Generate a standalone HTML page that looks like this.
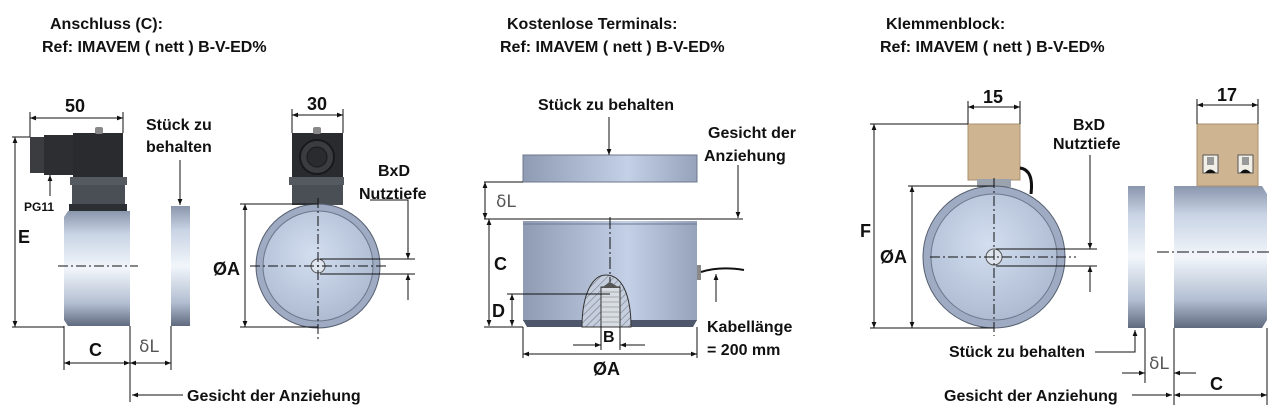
<!DOCTYPE html>
<html><head><meta charset="utf-8"><style>
html,body{margin:0;padding:0;background:#fff;}
svg{display:block;}
text{font-family:"Liberation Sans",sans-serif;font-weight:bold;fill:#111;}
.t{font-size:16px;}
.d{font-size:18px;}
.dl{font-family:"DejaVu Sans",sans-serif;font-weight:normal;fill:#555;font-size:17px;}
</style></head><body>
<svg width="1283" height="408" viewBox="0 0 1283 408" xmlns="http://www.w3.org/2000/svg">
<defs>
<linearGradient id="mv" x1="0" y1="0" x2="0" y2="1">
<stop offset="0" stop-color="#8a96ac"/><stop offset="0.2" stop-color="#c8d3e4"/><stop offset="0.5" stop-color="#f2f6fb"/><stop offset="0.8" stop-color="#b3bfd2"/><stop offset="1" stop-color="#5f6a7e"/></linearGradient>
<linearGradient id="cy" x1="0" y1="0" x2="1" y2="0">
<stop offset="0" stop-color="#8f9bb3"/><stop offset="0.6" stop-color="#c3d0e6"/><stop offset="1" stop-color="#96a2ba"/></linearGradient>
<radialGradient id="cf" cx="0.45" cy="0.4" r="0.7">
<stop offset="0" stop-color="#d3def0"/><stop offset="1" stop-color="#a8b6cd"/></radialGradient>
<pattern id="hat" width="5" height="5" patternUnits="userSpaceOnUse" patternTransform="rotate(45)">
<rect width="5" height="5" fill="#c4cede"/><line x1="0" y1="0" x2="0" y2="5" stroke="#555" stroke-width="0.8"/></pattern>
<marker id="a" viewBox="0 0 10 10" refX="10" refY="5" markerWidth="9" markerHeight="6" orient="auto-start-reverse" markerUnits="userSpaceOnUse"><path d="M0,1 L10,5 L0,9 z" fill="#111"/></marker>
</defs>

<text class="t" x="50" y="29">Anschluss (C):</text>
<text class="t" x="42" y="52">Ref: IMAVEM ( nett ) B-V-ED%</text>
<text class="t" x="507" y="29">Kostenlose Terminals:</text>
<text class="t" x="500" y="52">Ref: IMAVEM ( nett ) B-V-ED%</text>
<text class="t" x="886" y="29">Klemmenblock:</text>
<text class="t" x="880" y="52">Ref: IMAVEM ( nett ) B-V-ED%</text>

<!-- LEFT side view -->
<rect x="30" y="137" width="15" height="36" fill="#3a3c40"/>
<rect x="44" y="135" width="30" height="40" fill="#2c2e31"/>
<rect x="73" y="133" width="50" height="44" fill="#2a2b2e"/>
<rect x="95" y="127" width="8" height="7" rx="2" fill="#888"/>
<rect x="70" y="177" width="57" height="8" fill="#555a60"/>
<rect x="72" y="185" width="53" height="19" fill="#4a4f55"/>
<rect x="69" y="204" width="58" height="8" fill="#2b2e33"/>
<path d="M68,211 L130,211 L130,326 L68,326 L64,320 L64,217 Z" fill="url(#mv)"/>
<rect x="171" y="206" width="19" height="120" fill="url(#mv)"/>
<g stroke="#111" stroke-width="1" fill="none">
<line x1="30" y1="112" x2="30" y2="137"/><line x1="123" y1="112" x2="123" y2="133"/>
<line x1="30" y1="118" x2="123" y2="118" marker-start="url(#a)" marker-end="url(#a)"/>
<line x1="12" y1="137" x2="30" y2="137"/><line x1="12" y1="327" x2="64" y2="327"/>
<line x1="15" y1="137" x2="15" y2="327" marker-start="url(#a)" marker-end="url(#a)"/>
<line x1="50" y1="196" x2="50" y2="175" marker-end="url(#a)"/>
<line x1="180" y1="160" x2="180" y2="205" marker-end="url(#a)"/>
<line x1="64" y1="326" x2="64" y2="370"/><line x1="130" y1="326" x2="130" y2="402"/><line x1="171" y1="326" x2="171" y2="370"/>
<line x1="64" y1="363" x2="130" y2="363" marker-start="url(#a)" marker-end="url(#a)"/>
<line x1="130" y1="363" x2="171" y2="363" marker-start="url(#a)" marker-end="url(#a)"/>
<line x1="183" y1="395" x2="132" y2="395" marker-end="url(#a)"/>
<line x1="58" y1="266" x2="138" y2="266" stroke-dasharray="10,3,2,3"/>
</g>
<text class="d" x="65" y="112">50</text>
<text class="t" x="146" y="130">Stück zu</text>
<text class="t" x="146" y="152">behalten</text>
<text class="d" x="18" y="243">E</text>
<text style="font-size:12px" x="24" y="211">PG11</text>
<text class="d" x="89" y="356">C</text>
<text class="dl" x="139" y="352">δL</text>
<text class="t" x="187" y="401">Gesicht der Anziehung</text>

<!-- front view -->
<rect x="292" y="133" width="51" height="44" fill="#2a2b2e"/>
<circle cx="317" cy="157" r="17" fill="#3a3c40" stroke="#18191b" stroke-width="2"/>
<circle cx="317" cy="157" r="10" fill="#2a2b2e" stroke="#18191b"/>
<rect x="313" y="127" width="8" height="7" rx="2" fill="#888"/>
<rect x="289" y="177" width="55" height="8" fill="#555a60"/>
<rect x="292" y="185" width="51" height="20" fill="#4a4f55"/>
<circle cx="318" cy="266" r="62" fill="#9eabc2" stroke="#555f70"/>
<circle cx="318" cy="266" r="55" fill="url(#cf)" stroke="#6b778a"/>
<circle cx="318" cy="266" r="7" fill="#dfe5ee" stroke="#555"/>
<g stroke="#111" stroke-width="1" fill="none">
<line x1="292" y1="109" x2="292" y2="133"/><line x1="343" y1="109" x2="343" y2="133"/>
<line x1="292" y1="115" x2="343" y2="115" marker-start="url(#a)" marker-end="url(#a)"/>
<line x1="240" y1="204" x2="318" y2="204"/><line x1="240" y1="327" x2="318" y2="327"/>
<line x1="245" y1="204" x2="245" y2="327" marker-start="url(#a)" marker-end="url(#a)"/>
<line x1="318" y1="198" x2="318" y2="342" stroke-dasharray="10,3,2,3"/>
<line x1="250" y1="266" x2="388" y2="266" stroke-dasharray="10,3,2,3"/>
<line x1="320" y1="259" x2="415" y2="259"/><line x1="320" y1="274" x2="415" y2="274"/>
<polyline points="370,200 408,200 408,259"/>
<line x1="408" y1="244" x2="408" y2="259" marker-end="url(#a)"/>
<line x1="408" y1="300" x2="408" y2="274" marker-end="url(#a)"/>
</g>
<text class="d" x="307" y="110">30</text>
<text class="d" x="213" y="275">ØA</text>
<text class="t" x="378" y="176">BxD</text>
<text class="t" x="359" y="199">Nutztiefe</text>

<!-- MIDDLE -->
<rect x="523" y="155" width="174" height="27" fill="url(#cy)" stroke="#6d788c"/>
<rect x="523" y="221" width="174" height="100" fill="url(#cy)"/>
<path d="M523,320 L697,320 L693,327 L527,327 Z" fill="#4d566a"/>
<line x1="523" y1="224" x2="697" y2="224" stroke="#6d788c"/>
<rect x="697" y="265" width="4" height="15" fill="#888"/>
<path d="M701,272 Q720,266 744,270" stroke="#111" stroke-width="2" fill="none"/>
<path d="M582,327 C582,295 592,275 606,275 C622,275 631,295 631,327 Z" fill="url(#hat)" stroke="#333"/>
<rect x="601" y="287" width="19" height="40" fill="#d8dde3" stroke="#333"/>
<g stroke="#999" stroke-width="0.7">
<line x1="602" y1="292" x2="619" y2="292"/><line x1="602" y1="297" x2="619" y2="297"/><line x1="602" y1="302" x2="619" y2="302"/><line x1="602" y1="307" x2="619" y2="307"/><line x1="602" y1="312" x2="619" y2="312"/><line x1="602" y1="317" x2="619" y2="317"/><line x1="602" y1="322" x2="619" y2="322"/></g>
<path d="M601,288 L610,282 L620,288 Z" fill="#555"/>
<g stroke="#111" stroke-width="1" fill="none">
<line x1="609" y1="117" x2="609" y2="155" marker-end="url(#a)"/>
<line x1="484" y1="182" x2="523" y2="182"/>
<line x1="485" y1="182" x2="485" y2="219" marker-start="url(#a)" marker-end="url(#a)"/>
<line x1="484" y1="219" x2="743" y2="219"/>
<line x1="738" y1="165" x2="738" y2="218" marker-end="url(#a)"/>
<line x1="489" y1="219" x2="489" y2="326" marker-start="url(#a)" marker-end="url(#a)"/>
<line x1="507" y1="294" x2="610" y2="294"/>
<line x1="512" y1="294" x2="512" y2="326" marker-start="url(#a)" marker-end="url(#a)"/>
<line x1="484" y1="327" x2="523" y2="327"/>
<line x1="610" y1="217" x2="610" y2="282" stroke-dasharray="12,3,2,3"/>
<line x1="601" y1="327" x2="601" y2="350"/><line x1="620" y1="327" x2="620" y2="350"/>
<line x1="573" y1="345" x2="601" y2="345" marker-end="url(#a)"/>
<line x1="645" y1="345" x2="620" y2="345" marker-end="url(#a)"/>
<line x1="523" y1="327" x2="523" y2="358"/><line x1="697" y1="327" x2="697" y2="358"/>
<line x1="523" y1="354" x2="697" y2="354" marker-start="url(#a)" marker-end="url(#a)"/>
<line x1="716" y1="302" x2="716" y2="274" marker-end="url(#a)"/>
</g>
<text class="t" x="538" y="110">Stück zu behalten</text>
<text class="t" x="708" y="138">Gesicht der</text>
<text class="t" x="704" y="161">Anziehung</text>
<text class="dl" x="496" y="207">δL</text>
<text class="d" x="494" y="270">C</text>
<text class="d" x="492" y="317">D</text>
<text class="t" x="603" y="342">B</text>
<text class="d" x="593" y="375">ØA</text>
<text class="t" x="707" y="332">Kabellänge</text>
<text class="t" x="707" y="355">= 200 mm</text>

<!-- RIGHT -->
<rect x="968" y="124" width="52" height="56" fill="#cfb492" stroke="#a8906f"/>
<rect x="977" y="179" width="34" height="8" fill="#9aa3ae"/>
<path d="M1020,168 Q1034,170 1031,194" stroke="#111" stroke-width="3" fill="none"/>
<circle cx="994" cy="257" r="71" fill="#9eabc2" stroke="#555f70"/>
<circle cx="994" cy="257" r="63" fill="url(#cf)" stroke="#6b778a"/>
<circle cx="994" cy="257" r="8" fill="#dfe5ee" stroke="#555"/>
<rect x="1128" y="186" width="17" height="142" fill="url(#mv)"/>
<path d="M1174,186 L1262,186 L1267,194 L1267,320 L1262,328 L1174,328 Z" fill="url(#mv)"/>
<rect x="1197" y="124" width="61" height="62" fill="#cfb492" stroke="#a8906f"/>
<rect x="1203" y="155" width="15" height="18" fill="#f2efe9" stroke="#555"/>
<rect x="1238" y="155" width="15" height="18" fill="#f2efe9" stroke="#555"/>
<rect x="1207" y="157" width="7" height="8" fill="#999"/><rect x="1242" y="157" width="7" height="8" fill="#999"/>
<path d="M1205,173 Q1210,166 1216,173 Z M1240,173 Q1245,166 1251,173 Z" fill="#111"/>
<g stroke="#111" stroke-width="1" fill="none">
<line x1="968" y1="101" x2="968" y2="124"/><line x1="1020" y1="101" x2="1020" y2="124"/>
<line x1="968" y1="107" x2="1020" y2="107" marker-start="url(#a)" marker-end="url(#a)"/>
<line x1="870" y1="124" x2="968" y2="124"/>
<line x1="874" y1="124" x2="874" y2="328" marker-start="url(#a)" marker-end="url(#a)"/>
<line x1="908" y1="186" x2="994" y2="186"/>
<line x1="912" y1="186" x2="912" y2="328" marker-start="url(#a)" marker-end="url(#a)"/>
<line x1="870" y1="328" x2="994" y2="328"/>
<line x1="994" y1="178" x2="994" y2="336" stroke-dasharray="10,3,2,3"/>
<line x1="930" y1="257" x2="1076" y2="257" stroke-dasharray="10,3,2,3"/>
<line x1="996" y1="249" x2="1097" y2="249"/><line x1="996" y1="266" x2="1097" y2="266"/>
<line x1="1090" y1="155" x2="1090" y2="249" marker-end="url(#a)"/>
<line x1="1090" y1="292" x2="1090" y2="266" marker-end="url(#a)"/>
<line x1="1197" y1="99" x2="1197" y2="124"/><line x1="1258" y1="99" x2="1258" y2="124"/>
<line x1="1197" y1="105" x2="1258" y2="105" marker-start="url(#a)" marker-end="url(#a)"/>
<line x1="1157" y1="252" x2="1272" y2="252" stroke-dasharray="12,3,2,3"/>
<polyline points="1095,352 1135,352 1135,330"/>
<line x1="1135" y1="345" x2="1135" y2="330" marker-end="url(#a)"/>
<line x1="1145" y1="328" x2="1145" y2="383"/><line x1="1174" y1="328" x2="1174" y2="405"/><line x1="1267" y1="328" x2="1267" y2="405"/>
<line x1="1122" y1="373" x2="1145" y2="373" marker-end="url(#a)"/>
<line x1="1196" y1="373" x2="1174" y2="373" marker-end="url(#a)"/>
<line x1="1174" y1="395" x2="1267" y2="395" marker-start="url(#a)" marker-end="url(#a)"/>
<line x1="1132" y1="395" x2="1172" y2="395" marker-end="url(#a)"/>
</g>
<text class="d" x="983" y="103">15</text>
<text class="d" x="1217" y="101">17</text>
<text class="d" x="860" y="237">F</text>
<text class="d" x="880" y="263">ØA</text>
<text class="t" x="1073" y="130">BxD</text>
<text class="t" x="1053" y="149">Nutztiefe</text>
<text class="t" x="949" y="357">Stück zu behalten</text>
<text class="dl" x="1149" y="369">δL</text>
<text class="d" x="1210" y="390">C</text>
<text class="t" x="944" y="401">Gesicht der Anziehung</text>
</svg>
</body></html>
